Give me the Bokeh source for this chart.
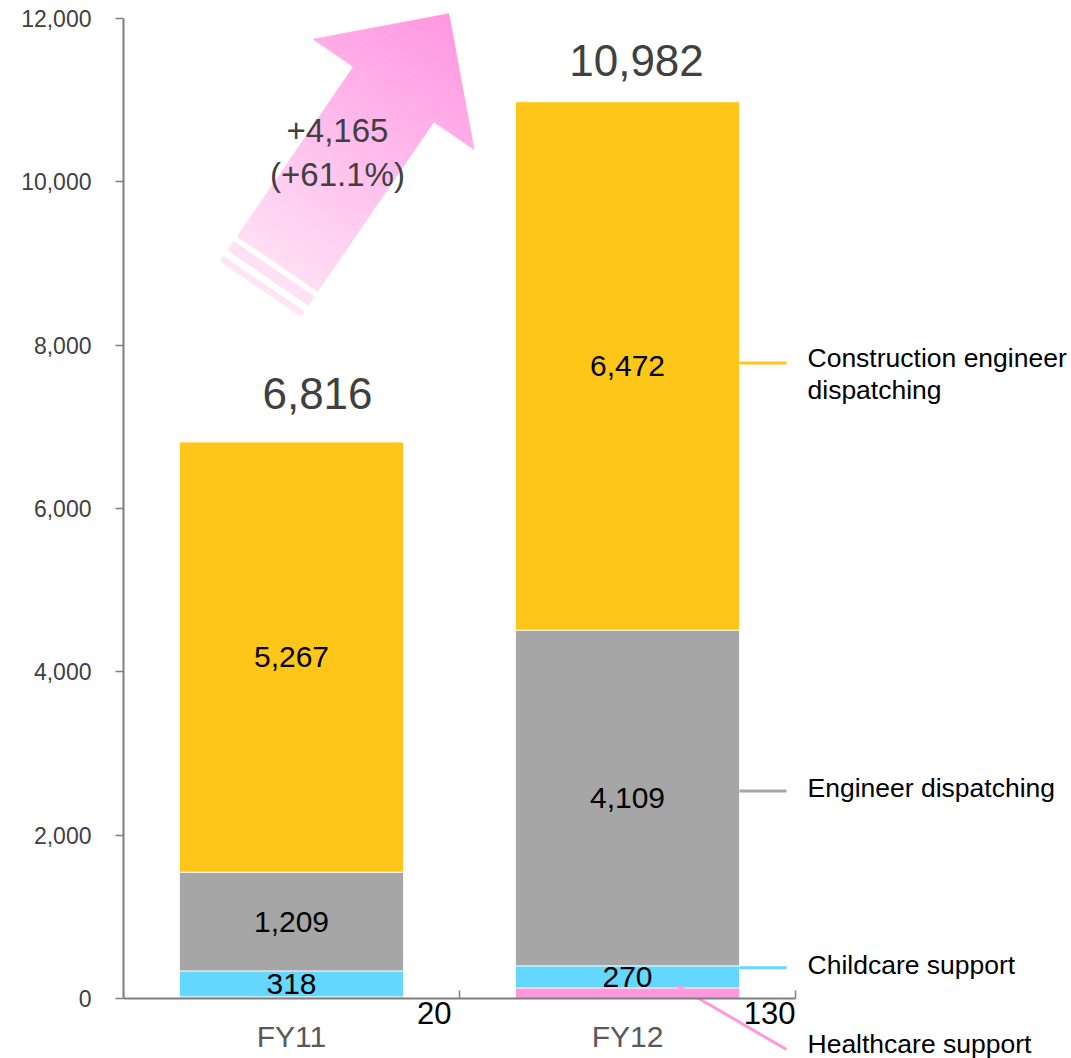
import math
from bokeh.plotting import figure
from bokeh.models import ColumnDataSource, Range1d, FixedTicker, LinearAxis, NumeralTickFormatter
from bokeh.embed import file_html
from bokeh.resources import INLINE
from bokeh.core.properties import value

# ---------------- data ----------------
years = ["FY11", "FY12"]
segments = ["Healthcare support", "Childcare support", "Engineer dispatching",
            "Construction engineer dispatching"]
healthcare = [20, 130]
childcare = [318, 270]
engineer = [1209, 4109]
construction = [5267, 6472]
totals = [6816, 10982]
increase_text = ["+4,165", "(+61.1%)"]
y_ticks = [0, 2000, 4000, 6000, 8000, 10000, 12000]
colors = ["#FF99DD", "#63D7FD", "#A6A6A6", "#FFC61A"]

# ---------------- layout constants (screen pixels) ----------------
W, H = 1071, 1058
X0PX, Y0PX, CATPX = 123, 998, 336          # frame left, pixel row of y=0, px per category
PPU = 980 / 12000                           # px per unit on y
x_end = (W - X0PX) / CATPX
y_start = -(H - Y0PX) / PPU
y_end = Y0PX / PPU

def dx(px):  # pixel distance -> x data distance
    return px / CATPX

def dy(px):  # pixel distance -> y data distance
    return px / PPU

def to_data(px, py):
    return (px - X0PX) / CATPX, (Y0PX - py) / PPU

p = figure(width=W, height=H, x_range=Range1d(0, x_end), y_range=Range1d(y_start, y_end),
           x_axis_location=None, y_axis_location=None,
           min_border_left=X0PX, min_border_right=0, min_border_top=0, min_border_bottom=0,
           toolbar_location=None, output_backend="svg", outline_line_color=None)
p.grid.visible = False
p.background_fill_color = "white"
p.border_fill_color = "white"

AX = "#7F7F7F"
FONT = "Liberation Sans"

# y axis
yaxis = LinearAxis(ticker=FixedTicker(ticks=y_ticks), bounds=(0, 12000),
                   formatter=NumeralTickFormatter(format="0,0"),
                   axis_line_color=AX, axis_line_width=2,
                   major_tick_line_color=AX, major_tick_line_width=1.5,
                   major_tick_out=8, major_tick_in=0, minor_tick_line_color=None,
                   major_label_text_font=FONT, major_label_text_font_size="23px",
                   major_label_text_color="#404040", major_label_standoff=24)
p.add_layout(yaxis, "left")

# x axis fixed at y = 0: labels at category centres, minor ticks at category boundaries
xaxis = LinearAxis(ticker=FixedTicker(ticks=[0.5, 1.5], minor_ticks=[0, 1, 2]),
                   bounds=(0, 2), fixed_location=0,
                   axis_line_color=AX, axis_line_width=2,
                   major_tick_line_color=None,
                   minor_tick_line_color=AX, minor_tick_line_width=1.5,
                   minor_tick_in=8, minor_tick_out=0,
                   major_label_overrides={0.5: years[0], 1.5: years[1]},
                   major_label_text_font=FONT, major_label_text_font_size="30px",
                   major_label_text_color="#595959", major_label_standoff=15)
p.add_layout(xaxis, "below")

# ---------------- arrow (decoration, gradient emulated with bands) ----------------
tail = (277.0, 263.4)
tip = (448.3, 13.3)
shaft_hw, head_hw, head_base = 48.7, 97.5, 205.5
L = math.hypot(tip[0] - tail[0], tip[1] - tail[1])
u = ((tip[0] - tail[0]) / L, (tip[1] - tail[1]) / L)
v = (-u[1], u[0])

def pt(s, w):
    return (tail[0] + s * u[0] + w * v[0], tail[1] + s * u[1] + w * v[1])

def head_half(s):
    return head_hw * (L - s) / (L - head_base)

c0, c1 = (255, 229, 246), (255, 150, 226)
s_lo = -30.2

def col(s):
    t = (s - s_lo) / (L - s_lo)
    r = [round(c0[i] + (c1[i] - c0[i]) * t) for i in range(3)]
    return "#%02X%02X%02X" % tuple(r)

axs, ays, acols = [], [], []
regions = [(-30.2, -24.3, "rect"), (-16.8, -6.3, "rect"), (0, head_base, "rect"), (head_base, L, "head")]
for a, b, kind in regions:
    n = max(1, int(math.ceil((b - a) / 5)))
    for i in range(n):
        s0 = a + (b - a) * i / n
        s1 = a + (b - a) * (i + 1) / n
        if kind == "rect":
            h0 = h1 = shaft_hw
        else:
            h0, h1 = head_half(s0), head_half(s1)
        corners = [pt(s0, -h0), pt(s1, -h1), pt(s1, h1), pt(s0, h0)]
        d = [to_data(cx, cy) for cx, cy in corners]
        axs.append([q[0] for q in d])
        ays.append([q[1] for q in d])
        acols.append(col((s0 + s1) / 2))
p.patches(axs, ays, fill_color=acols, line_color=acols, line_width=0.8)

ax_c, ay_c = to_data(337, 130)
p.text(x=[ax_c, ax_c], y=[ay_c, ay_c - dy(44)], text=increase_text,
       text_font=value(FONT), text_font_size="33px", text_color="#404040",
       text_align="center", text_baseline="middle")

# ---------------- bars ----------------
xs = [0.5, 1.5]
BW = 224 / CATPX
src = ColumnDataSource(dict(x=xs, h=healthcare, c=childcare, e=engineer, k=construction))
p.vbar_stack(["h", "c", "e", "k"], x="x", width=BW, color=colors, source=src,
             line_color="white", line_width=0.8)

# segment labels
lab_x, lab_y, lab_t = [], [], []
for i in range(2):
    base = healthcare[i]
    for val in (childcare[i], engineer[i], construction[i]):
        lab_x.append(xs[i])
        lab_y.append(base + val / 2)
        lab_t.append(f"{val:,}")
        base += val
p.text(x=lab_x, y=lab_y, text=lab_t, text_font=value(FONT), text_font_size="30px",
       text_color="black", text_align="center", text_baseline="middle")

# healthcare value labels (below axis, right of each bar)
p.text(x=[1 - dx(8), 2], y=[-dy(14), -dy(14)], text=[str(v_) for v_ in healthcare],
       text_font=value(FONT), text_font_size="31px", text_color="black",
       text_align="right", text_baseline="middle")

# totals
tot_dx = [26, 9]
tot_dy = [48, 41]
p.text(x=[xs[i] + dx(tot_dx[i]) for i in range(2)],
       y=[totals[i] + dy(tot_dy[i]) for i in range(2)],
       text=[f"{t:,}" for t in totals], text_font=value(FONT), text_font_size="44px",
       text_color="#404040", text_align="center", text_baseline="middle")

# ---------------- leader lines + right labels ----------------
bar_edge = 1.5 + BW / 2
lead_end = 2 - dx(9)
cons_mid = healthcare[1] + childcare[1] + engineer[1] + construction[1] / 2
eng_y = healthcare[1] + childcare[1] + engineer[1] / 2 + dy(7)
child_y = healthcare[1] + childcare[1] - dy(2)
p.segment(x0=[bar_edge] * 3, y0=[cons_mid + dy(3), eng_y, child_y],
          x1=[lead_end] * 3, y1=[cons_mid + dy(3), eng_y, child_y],
          line_color=[colors[3], colors[2], colors[1]], line_width=3)
hx0, hy0 = to_data(676, 985)
hx1, hy1 = to_data(786, 1049)
p.segment(x0=[hx0], y0=[hy0], x1=[hx1], y1=[hy1], line_color=colors[0], line_width=3)

tx = 2 + dx(12)
p.text(x=[tx] * 5,
       y=[cons_mid + dy(8), cons_mid - dy(24), eng_y + dy(3), child_y + dy(3), hy1 + dy(6)],
       text=["Construction engineer", "dispatching", segments[2], segments[1], segments[0]],
       text_font=value(FONT), text_font_size="26.5px", text_color="black",
       text_align="left", text_baseline="middle")

open("out.html", "w").write(file_html(p, INLINE))
